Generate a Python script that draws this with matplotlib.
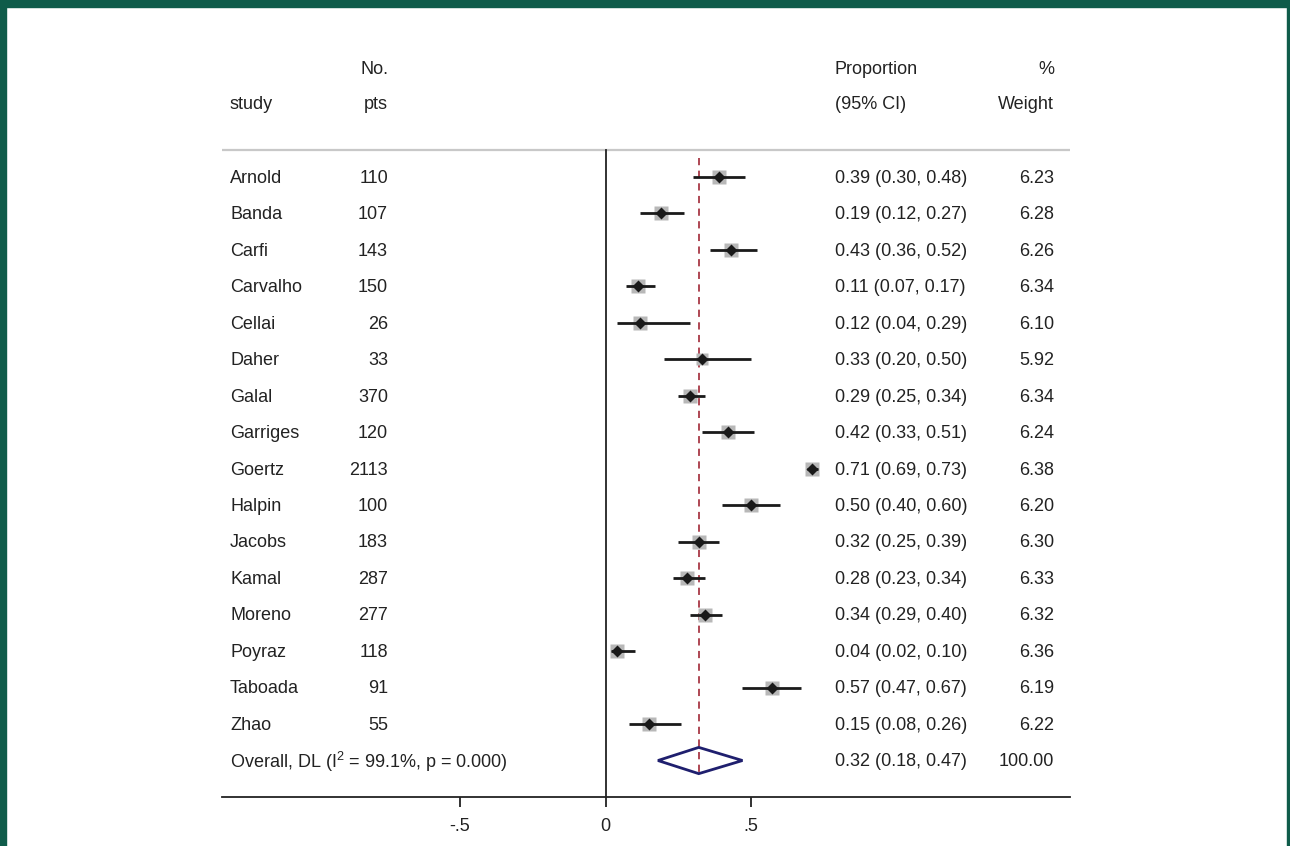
import matplotlib
matplotlib.use("Agg")
import matplotlib.pyplot as plt
from matplotlib.patches import Rectangle, Polygon

plt.rcParams['font.family'] = ['Liberation Sans', 'DejaVu Sans']
plt.rcParams['mathtext.fontset'] = 'custom'
plt.rcParams['mathtext.rm'] = 'Liberation Sans'

studies = ["Arnold", "Banda", "Carfi", "Carvalho", "Cellai", "Daher", "Galal", "Garriges",
           "Goertz", "Halpin", "Jacobs", "Kamal", "Moreno", "Poyraz", "Taboada", "Zhao"]
pts = [110, 107, 143, 150, 26, 33, 370, 120, 2113, 100, 183, 287, 277, 118, 91, 55]
prop = [0.39, 0.19, 0.43, 0.11, 0.12, 0.33, 0.29, 0.42, 0.71, 0.50, 0.32, 0.28, 0.34, 0.04, 0.57, 0.15]
lo = [0.30, 0.12, 0.36, 0.07, 0.04, 0.20, 0.25, 0.33, 0.69, 0.40, 0.25, 0.23, 0.29, 0.02, 0.47, 0.08]
hi = [0.48, 0.27, 0.52, 0.17, 0.29, 0.50, 0.34, 0.51, 0.73, 0.60, 0.39, 0.34, 0.40, 0.10, 0.67, 0.26]
weight = [6.23, 6.28, 6.26, 6.34, 6.10, 5.92, 6.34, 6.24, 6.38, 6.20, 6.30, 6.33, 6.32, 6.36, 6.19, 6.22]
overall = 0.32
overall_lo = 0.18
overall_hi = 0.47
overall_label = "Overall, DL (I$^{2}$ = 99.1%, p = 0.000)"
overall_weight = "100.00"
xticks = [-0.5, 0, 0.5]
xticklabels = ["-.5", "0", ".5"]

W, H = 1290, 846
fig = plt.figure(figsize=(W / 100, H / 100), dpi=100)
fig.patch.set_facecolor("white")

# frame
green = "#0f5c4a"
fig.patches.append(Rectangle((0, 1 - 7 / H), 1, 7 / H, transform=fig.transFigure, color=green, zorder=0))
fig.patches.append(Rectangle((0, 0), 6 / W, 1, transform=fig.transFigure, color=green, zorder=0))
fig.patches.append(Rectangle((1 - 3 / W, 0), 3 / W, 1, transform=fig.transFigure, color=green, zorder=0))

x0_px, x1_px = 222, 1070
ytop_px, ybot_px = 40, 797
ax = fig.add_axes([x0_px / W, 1 - ybot_px / H, (x1_px - x0_px) / W, (ybot_px - ytop_px) / H])
ax.set_facecolor("none")
ppu = 291.4
zero_px = 605.5
ax.set_xlim((x0_px - zero_px) / ppu, (x1_px - zero_px) / ppu)
rowh = 36.47
row0 = 177
ax.set_ylim((ybot_px - row0) / rowh, (ytop_px - row0) / rowh)

for s in ["top", "right", "left"]:
    ax.spines[s].set_visible(False)
ax.spines["bottom"].set_linewidth(1.3)
ax.spines["bottom"].set_color("#222222")
ax.set_yticks([])
ax.set_xticks(xticks)
ax.set_xticklabels(xticklabels, fontsize=13, color="#222222")
ax.tick_params(axis="x", length=7, width=1.3, color="#222222", pad=8)

fs = 13
tc = "#222222"
xf = lambda px: (px - zero_px) / ppu
dy = 0.035  # small downward nudge of text

# header
hdr_line_y = (150 - row0) / rowh
ax.axhline(hdr_line_y, color="#c8c8c8", lw=1.6)
y_no = (68 - row0) / rowh + dy
y_pts = (103 - row0) / rowh + dy
ax.text(xf(230), y_pts, "study", fontsize=fs, color=tc, ha="left", va="center")
ax.text(xf(388), y_no, "No.", fontsize=fs, color=tc, ha="right", va="center")
ax.text(xf(388), y_pts, "pts", fontsize=fs, color=tc, ha="right", va="center")
ax.text(xf(835), y_no, "Proportion", fontsize=fs, color=tc, ha="left", va="center")
ax.text(xf(835), y_pts, "(95% CI)", fontsize=fs, color=tc, ha="left", va="center")
ax.text(xf(1054), y_no, "%", fontsize=fs, color=tc, ha="right", va="center")
ax.text(xf(1054), y_pts, "Weight", fontsize=fs, color=tc, ha="right", va="center")

# zero line
ax.plot([0, 0], [hdr_line_y, (ybot_px - row0) / rowh], color="#222222", lw=1.3, clip_on=False)

# reference dashed line
ax.plot([overall, overall], [(158 - row0) / rowh, (775 - row0) / rowh], color="#a83845",
        lw=1.3, dashes=(4, 3))

wmax = max(weight)
for i, (st, n, p, l, h, w) in enumerate(zip(studies, pts, prop, lo, hi, weight)):
    ax.plot([l, h], [i, i], color="#1a1a1a", lw=2, solid_capstyle="butt", zorder=3)
    ax.plot([p], [i], marker="s", ms=9.6 * (w / wmax) ** 0.5, color="#b8b8b8", mec="none", zorder=2)
    ax.plot([p], [i], marker="D", ms=6.3, color="#1a1a1a", mec="none", zorder=4)
    ax.text(xf(230), i + dy, st, fontsize=fs, color=tc, ha="left", va="center")
    ax.text(xf(388), i + dy, str(n), fontsize=fs, color=tc, ha="right", va="center")
    ax.text(xf(835), i + dy, f"{p:.2f} ({l:.2f}, {h:.2f})", fontsize=fs, color=tc, ha="left", va="center")
    ax.text(xf(1054), i + dy, f"{w:.2f}", fontsize=fs, color=tc, ha="right", va="center")

yo = len(studies)
hh = 0.36
ax.add_patch(Polygon([[overall_lo, yo], [overall, yo - hh], [overall_hi, yo], [overall, yo + hh]],
                     closed=True, fill=False, edgecolor="#1f1f6e", lw=2, zorder=5))
ax.text(xf(230), yo + dy, overall_label, fontsize=fs, color=tc, ha="left", va="center")
ax.text(xf(835), yo + dy, f"{overall:.2f} ({overall_lo:.2f}, {overall_hi:.2f})", fontsize=fs, color=tc,
        ha="left", va="center")
ax.text(xf(1054), yo + dy, overall_weight, fontsize=fs, color=tc, ha="right", va="center")

fig.savefig("out.png", dpi=100)
